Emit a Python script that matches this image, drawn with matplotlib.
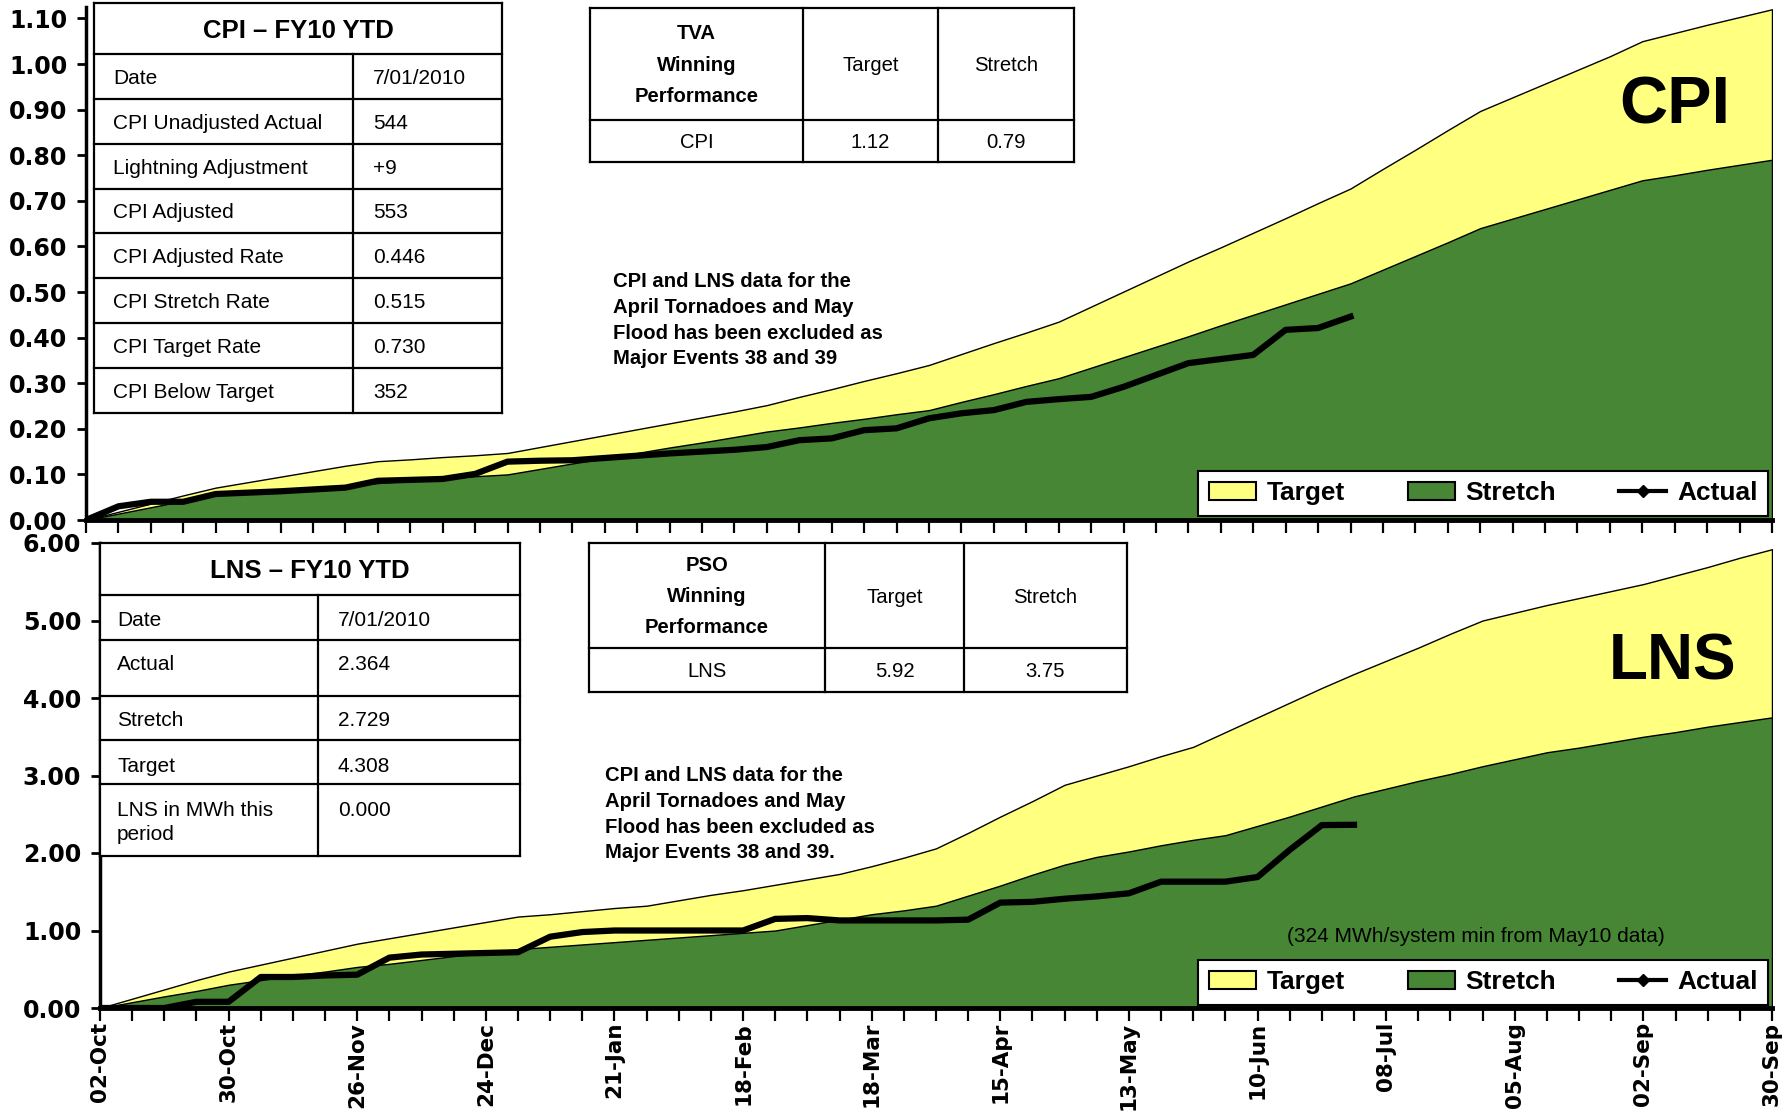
import numpy as np
import matplotlib
matplotlib.use("Agg")
import matplotlib.pyplot as plt
from matplotlib import font_manager
from matplotlib.patches import Patch, Rectangle
from matplotlib.lines import Line2D

# ------------------------------------------------------------------ data
week_labels = ['02-Oct', '30-Oct', '26-Nov', '24-Dec', '21-Jan', '18-Feb', '18-Mar',
               '15-Apr', '13-May', '10-Jun', '08-Jul', '05-Aug', '02-Sep', '30-Sep']

cpi_target = [0.000, 0.018, 0.036, 0.054, 0.071, 0.083, 0.095, 0.107, 0.119, 0.129,
              0.133, 0.138, 0.142, 0.147, 0.160, 0.173, 0.186, 0.199, 0.212, 0.225,
              0.238, 0.252, 0.270, 0.287, 0.305, 0.322, 0.340, 0.364, 0.388, 0.411,
              0.435, 0.468, 0.501, 0.534, 0.567, 0.598, 0.630, 0.662, 0.695, 0.727,
              0.770, 0.812, 0.855, 0.897, 0.927, 0.957, 0.987, 1.017, 1.050, 1.068,
              1.086, 1.103, 1.120]
cpi_stretch = [0.000, 0.014, 0.028, 0.042, 0.056, 0.061, 0.066, 0.071, 0.076, 0.081,
               0.086, 0.091, 0.096, 0.100, 0.112, 0.124, 0.135, 0.147, 0.159, 0.170,
               0.182, 0.194, 0.203, 0.213, 0.222, 0.232, 0.241, 0.259, 0.276, 0.294,
               0.311, 0.334, 0.357, 0.380, 0.403, 0.427, 0.450, 0.473, 0.496, 0.519,
               0.549, 0.579, 0.609, 0.640, 0.661, 0.682, 0.703, 0.724, 0.745, 0.756,
               0.768, 0.779, 0.790]
cpi_actual = [0.000, 0.030, 0.040, 0.040, 0.057, 0.060, 0.063, 0.067, 0.071, 0.086,
              0.088, 0.090, 0.101, 0.128, 0.130, 0.131, 0.136, 0.141, 0.146, 0.150,
              0.154, 0.160, 0.175, 0.179, 0.197, 0.201, 0.223, 0.234, 0.241, 0.259,
              0.265, 0.270, 0.292, 0.318, 0.344, 0.353, 0.362, 0.417, 0.421, 0.446]

lns_target = [0.00, 0.12, 0.24, 0.36, 0.47, 0.56, 0.65, 0.74, 0.83, 0.90,
              0.97, 1.04, 1.11, 1.18, 1.21, 1.25, 1.29, 1.32, 1.39, 1.46,
              1.52, 1.59, 1.66, 1.73, 1.83, 1.94, 2.06, 2.26, 2.47, 2.67,
              2.88, 3.00, 3.12, 3.25, 3.37, 3.56, 3.75, 3.94, 4.13, 4.31,
              4.48, 4.65, 4.83, 5.00, 5.10, 5.20, 5.29, 5.38, 5.47, 5.58,
              5.69, 5.81, 5.92]
lns_stretch = [0.00, 0.075, 0.15, 0.22, 0.30, 0.36, 0.42, 0.47, 0.53, 0.57,
               0.62, 0.67, 0.71, 0.76, 0.79, 0.82, 0.85, 0.88, 0.91, 0.94,
               0.97, 1.00, 1.07, 1.14, 1.21, 1.26, 1.32, 1.45, 1.58, 1.72,
               1.85, 1.95, 2.02, 2.10, 2.17, 2.23, 2.35, 2.47, 2.60, 2.73,
               2.83, 2.93, 3.02, 3.12, 3.21, 3.30, 3.36, 3.43, 3.50, 3.56,
               3.63, 3.69, 3.75]
lns_actual = [0.00, 0.00, 0.00, 0.08, 0.08, 0.40, 0.40, 0.42, 0.43, 0.65,
              0.69, 0.70, 0.71, 0.72, 0.92, 0.98, 1.00, 1.00, 1.00, 1.00,
              1.00, 1.15, 1.16, 1.13, 1.13, 1.13, 1.13, 1.14, 1.36, 1.37,
              1.41, 1.44, 1.48, 1.63, 1.63, 1.63, 1.69, 2.04, 2.36, 2.364]

cpi_yticks = [0.0, 0.1, 0.2, 0.3, 0.4, 0.5, 0.6, 0.7, 0.8, 0.9, 1.0, 1.1]
lns_yticks = [0, 1, 2, 3, 4, 5, 6]

cpi_table_title = 'CPI – FY10 YTD'
cpi_table_labels = ['Date', 'CPI Unadjusted Actual', 'Lightning Adjustment', 'CPI Adjusted',
                    'CPI Adjusted Rate', 'CPI Stretch Rate', 'CPI Target Rate', 'CPI Below Target']
cpi_table_values = ['7/01/2010', '544', '+9', '553', '0.446', '0.515', '0.730', '352']

lns_table_title = 'LNS – FY10 YTD'
lns_table_labels = ['Date', 'Actual', 'Stretch', 'Target', 'LNS in MWh this\nperiod']
lns_table_values = ['7/01/2010', '2.364', '2.729', '4.308', '0.000']

tva_header = ['TVA\nWinning\nPerformance', 'Target', 'Stretch']
tva_row = ['CPI', '1.12', '0.79']
pso_header = ['PSO\nWinning\nPerformance', 'Target', 'Stretch']
pso_row = ['LNS', '5.92', '3.75']

note_cpi = 'CPI and LNS data for the\nApril Tornadoes and May\nFlood has been excluded as\nMajor Events 38 and 39'
note_lns = 'CPI and LNS data for the\nApril Tornadoes and May\nFlood has been excluded as\nMajor Events 38 and 39.'
note_mwh = '(324 MWh/system min from May10 data)'
legend_labels = ['Target', 'Stretch', 'Actual']

# ------------------------------------------------------------------ fonts / colours
_names = {f.name for f in font_manager.fontManager.ttflist}
SANS = "Liberation Sans" if "Liberation Sans" in _names else "DejaVu Sans"
HAS_NARROW = "Liberation Sans Narrow" in _names
NARROW = "Liberation Sans Narrow" if HAS_NARROW else SANS
NS = 1.0 if HAS_NARROW else 0.86
TICKFONT = "DejaVu Sans"

YELLOW = "#FFFF80"
GREEN = "#468634"

W, H = 1791, 1117
fig = plt.figure(figsize=(W / 100, H / 100), dpi=100)


def axes_px(left, right, y0, ytop):
    return fig.add_axes([left / W, 1 - y0 / H, (right - left) / W, (y0 - ytop) / H])


ax1 = axes_px(86, 1772, 520, 520 - 1.125 * 456)
ax2 = axes_px(100, 1772, 1008, 1008 - 6.0 * 77.5)


def style(ax, ymax, yticks, labels):
    ax.set_xlim(0, 52)
    ax.set_ylim(0, ymax)
    ax.patch.set_visible(False)
    for s in ('top', 'right'):
        ax.spines[s].set_visible(False)
    ax.spines['left'].set_linewidth(2.5)
    ax.spines['bottom'].set_linewidth(3.5)
    ax.set_yticks(yticks)
    ax.set_yticklabels([f"{v:.2f}" for v in yticks], fontfamily=TICKFONT,
                       fontweight='bold', fontsize=17)
    ax.tick_params(axis='y', length=6.5, width=2, pad=7)
    ax.set_xticks(np.arange(53))
    if labels:
        ax.set_xticklabels([week_labels[i // 4] if i % 4 == 0 else '' for i in range(53)],
                           rotation=90, fontfamily=TICKFONT, fontweight='bold', fontsize=15.5)
    else:
        ax.set_xticklabels([])
    ax.tick_params(axis='x', length=9, width=1.6, pad=1)


def draw_series(ax, target, stretch, actual):
    x = np.arange(len(target))
    ax.fill_between(x, 0, target, facecolor=YELLOW, edgecolor='black', linewidth=1.0, zorder=1)
    ax.fill_between(x, 0, stretch, facecolor=GREEN, edgecolor='black', linewidth=1.0, zorder=2)
    ax.plot(np.arange(len(actual)), actual, color='black', lw=4.5, zorder=3)


def add_legend(ax, right_px, bottom_px):
    handles = [Patch(facecolor=YELLOW, edgecolor='black', lw=1.5),
               Patch(facecolor=GREEN, edgecolor='black', lw=1.5),
               Line2D([], [], color='black', lw=3, marker='D', markersize=6)]
    leg = ax.legend(handles, legend_labels, ncol=3, loc='lower right',
                    bbox_to_anchor=(right_px / W, 1 - bottom_px / H),
                    bbox_transform=fig.transFigure, borderaxespad=0, frameon=True,
                    fancybox=False, edgecolor='black', framealpha=1,
                    prop=dict(family=NARROW, weight='bold', size=22 * NS),
                    handlelength=1.8, handleheight=0.65, handletextpad=0.4,
                    columnspacing=2.4, borderpad=0.4)
    leg.get_frame().set_linewidth(1.5)
    leg.set_zorder(5)


style(ax1, 1.125, cpi_yticks, False)
style(ax2, 6.0, lns_yticks, True)
draw_series(ax1, cpi_target, cpi_stretch, cpi_actual)
draw_series(ax2, lns_target, lns_stretch, lns_actual)
add_legend(ax1, 1768, 516)
add_legend(ax2, 1768, 1005)

# ------------------------------------------------------------------ overlay (tables, notes)
ov = fig.add_axes([0, 0, 1, 1], zorder=10)
ov.set_xlim(0, W)
ov.set_ylim(H, 0)
ov.axis('off')


def txt(x, yc, s, size, ha='left', **kw):
    ov.text(x, yc + 0.36 * size * 100 / 72, s, va='baseline', ha=ha, fontsize=size, **kw)


def grid(xs, ys, title_row=False, lw=1.6):
    ov.add_patch(Rectangle((xs[0], ys[0]), xs[-1] - xs[0], ys[-1] - ys[0],
                           facecolor='white', edgecolor='none', zorder=1))
    for y in ys:
        ov.plot([xs[0], xs[-1]], [y, y], color='black', lw=lw, zorder=2,
                solid_capstyle='projecting')
    for i, xv in enumerate(xs):
        y0 = ys[1] if (title_row and 0 < i < len(xs) - 1) else ys[0]
        ov.plot([xv, xv], [y0, ys[-1]], color='black', lw=lw, zorder=2,
                solid_capstyle='projecting')


# CPI table
cx = [94, 353, 502]
cy = [3, 54, 99, 144, 189, 233, 278, 323, 368, 413]
grid(cx, cy, title_row=True)
txt((cx[0] + cx[-1]) / 2, (cy[0] + cy[1]) / 2, cpi_table_title, 18.5, ha='center',
    family=SANS, weight='bold')
for i, (lab, val) in enumerate(zip(cpi_table_labels, cpi_table_values)):
    yc = (cy[i + 1] + cy[i + 2]) / 2
    txt(cx[0] + 19, yc, lab, 15, family=SANS)
    txt(cx[1] + 20, yc, val, 15, family=SANS)

# LNS table
lx = [100, 318, 520]
ly = [543, 595, 640, 696, 740, 784, 856]
lns_text_y = [618, 663, 718, 764, 808]
grid(lx, ly, title_row=True)
txt((lx[0] + lx[-1]) / 2, (ly[0] + ly[1]) / 2, lns_table_title, 18.5, ha='center',
    family=SANS, weight='bold')
for lab, val, yc in zip(lns_table_labels, lns_table_values, lns_text_y):
    for k, line in enumerate(lab.split('\n')):
        txt(lx[0] + 17, yc + 25 * k, line, 15, family=SANS)
    txt(lx[1] + 20, yc, val, 15, family=SANS)


def winning_table(xs, ys, header, row, head_lines_y):
    grid(xs, ys)
    centers = [(xs[i] + xs[i + 1]) / 2 for i in range(len(xs) - 1)]
    for line, yc in zip(header[0].split('\n'), head_lines_y):
        txt(centers[0], yc, line, 17 * NS, ha='center', family=NARROW, weight='bold')
    for c, s in zip(centers[1:], header[1:]):
        txt(c, (ys[0] + ys[1]) / 2, s, 17 * NS, ha='center', family=NARROW)
    for c, s in zip(centers, row):
        txt(c, (ys[1] + ys[2]) / 2, s, 17 * NS, ha='center', family=NARROW)


winning_table([590, 803, 938, 1074], [8, 120, 162], tva_header, tva_row, [32, 64, 95])
winning_table([589, 825, 964, 1127], [543, 648, 692], pso_header, pso_row, [564, 595, 626])

# notes
for k, line in enumerate(note_cpi.split('\n')):
    txt(613, 280 + 25.7 * k, line, 17 * NS, family=NARROW, weight='bold')
for k, line in enumerate(note_lns.split('\n')):
    txt(605, 774 + 25.7 * k, line, 17 * NS, family=NARROW, weight='bold')
txt(1287, 934, note_mwh, 17.5 * NS, family=NARROW)

# big chart names
txt(1730, 100, 'CPI', 48, ha='right', family=SANS, weight='bold')
txt(1736, 657, 'LNS', 46, ha='right', family=SANS, weight='bold')

fig.savefig("out.png", dpi=100)
